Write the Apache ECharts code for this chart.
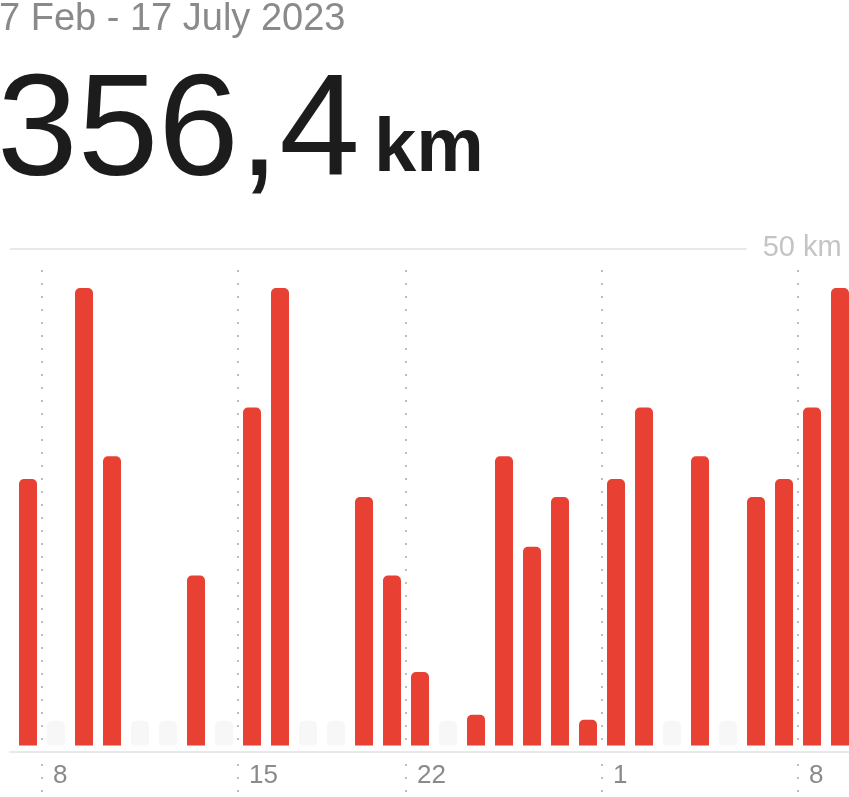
<!DOCTYPE html>
<html>
<head>
<meta charset="utf-8">
<script src="https://cdn.jsdelivr.net/npm/echarts@6/dist/echarts.min.js"></script>
<style>
html,body{margin:0;padding:0;background:#fff;}
#chart{width:849px;height:797px;}
</style>
</head>
<body>
<div id="chart"></div>
<script>
// ---- data ----
const dateRange = '7 Feb - 17 July 2023';
const totalValue = '356,4';
const totalUnit = 'km';
const categories = ['1','2','3','4','5','6','7','8','9','10','11','12','13','14','15','16','17','18','19','20','21','22','23','24','25','26','27','28','29','30'];
const distances = [26.8, 0, 46, 29.1, 0, 0, 17.1, 0, 34, 46, 0, 0, 25, 17.1, 7.4, 0, 3.1, 29.1, 20, 25, 2.6, 26.8, 34, 0, 29.1, 0, 25, 26.8, 34, 46];
const tickLabels = ['', '8', '', '', '', '', '', '', '15', '', '', '', '', '', '22', '', '', '', '', '', '', '1', '', '', '', '', '', '', '8', ''];
const dividerIdx = [1, 8, 14, 21, 28];
const yMax = 50;
const yMaxLabel = '50 km';
const restHeight = 2.5;

const restBars = distances.map(v => v === 0 ? restHeight : null);

const FONT = "'Liberation Sans', Arial, sans-serif";
const chart = echarts.init(document.getElementById('chart'), null, {renderer: 'canvas'});

chart.setOption({
  animation: false,
  backgroundColor: '#ffffff',
  title: [
    { text: dateRange, left: -1, top: 1, padding: 0,
      textStyle: { fontFamily: FONT, fontSize: 38, fontWeight: 'normal', color: '#8a8a8a' } },
    { text: totalValue, left: -3, top: 63, padding: 0,
      textStyle: { fontFamily: FONT, fontSize: 145, fontWeight: 'normal', color: '#1c1c1c' } },
    { text: totalUnit, left: 374, top: 112, padding: 0,
      textStyle: { fontFamily: FONT, fontSize: 76, fontWeight: 'bold', color: '#1c1c1c' } }
  ],
  grid: [
    { left: 14, width: 840, top: 248.3, bottom: 51.4, outerBoundsMode: 'none', containLabel: false },
    { left: 10, width: 839, top: 248.3, bottom: 51.4, outerBoundsMode: 'none', containLabel: false },
    { left: 14, width: 840, top: 270, bottom: 0, outerBoundsMode: 'none', containLabel: false }
  ],
  xAxis: [
    { type: 'category', gridIndex: 0, data: categories, boundaryGap: true,
      axisLine: { show: false }, axisTick: { show: false }, splitLine: { show: false },
      axisLabel: { interval: 0, align: 'left', verticalAlign: 'middle', margin: 30,
        padding: [0, 0, 0, -3],
        formatter: (v, i) => tickLabels[i],
        fontFamily: FONT, fontSize: 26, color: '#8a8a8a' } },
    { type: 'value', gridIndex: 1, min: 0, max: 1, show: true,
      axisLine: { show: true, onZero: false, lineStyle: { color: '#e8e8e8', width: 2 } },
      offset: 6,
      axisTick: { show: false }, axisLabel: { show: false }, splitLine: { show: false } },
    { type: 'category', gridIndex: 2, data: categories, boundaryGap: true,
      axisLine: { show: false }, axisTick: { show: false }, axisLabel: { show: false },
      splitLine: { show: true, interval: (i) => dividerIdx.includes(i),
        lineStyle: { color: '#bdbdbd', width: 2, type: [2, 11] } } }
  ],
  yAxis: [
    { type: 'value', gridIndex: 0, min: 0, max: yMax, show: false },
    { type: 'value', gridIndex: 1, min: 0, max: yMax, show: false },
    { type: 'value', gridIndex: 2, min: 0, max: 1, show: false }
  ],
  series: [
    { type: 'bar', xAxisIndex: 0, yAxisIndex: 0, data: restBars, barWidth: 18, barGap: '-100%',
      itemStyle: { color: '#f7f7f7', borderRadius: [5, 5, 0, 0] }, silent: true },
    { type: 'bar', xAxisIndex: 0, yAxisIndex: 0, data: distances, barWidth: 18, barGap: '-100%',
      itemStyle: { color: '#e84032', borderRadius: [5, 5, 0, 0] } },
    { type: 'line', xAxisIndex: 1, yAxisIndex: 1, data: [], silent: true,
      markLine: { silent: true, symbol: ['none', 'none'],
        lineStyle: { color: '#e8e8e8', width: 2, type: 'solid' },
        label: { show: true, position: 'end', distance: 16, formatter: yMaxLabel,
          fontFamily: FONT, fontSize: 29, color: '#c4c4c4' },
        data: [[{ coord: [0, yMax] }, { coord: [0.878, yMax] }]] } }
  ]
});
</script>
</body>
</html>
